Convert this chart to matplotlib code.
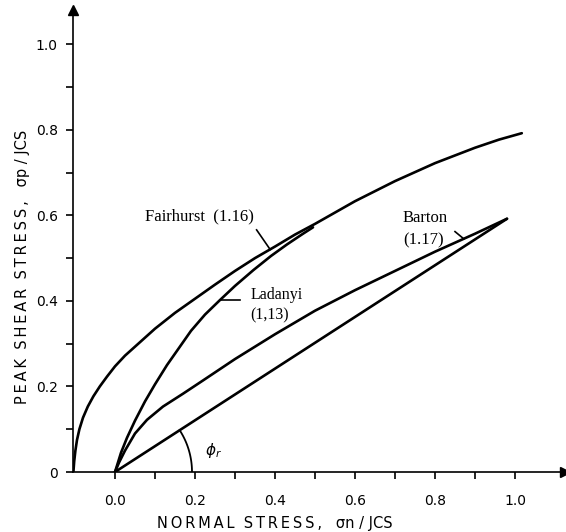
import numpy as np
import matplotlib.pyplot as plt

# curves (normal stress / JCS, peak shear / JCS)
fair_x = [-0.104, -0.102, -0.099, -0.095, -0.089, -0.08, -0.068, -0.054, -0.038, -0.02, 0.0,
          0.025, 0.05, 0.1, 0.15, 0.2, 0.25, 0.3, 0.35, 0.4, 0.45, 0.5, 0.6, 0.7, 0.8, 0.9, 0.96, 1.017]
fair_y = [0.0, 0.025, 0.05, 0.075, 0.1, 0.127, 0.153, 0.177, 0.2, 0.223, 0.247,
          0.272, 0.293, 0.335, 0.372, 0.405, 0.438, 0.47, 0.5, 0.527, 0.555, 0.58, 0.633, 0.68, 0.722, 0.758, 0.777, 0.792]

lad_x = [0.0, 0.005, 0.015, 0.03, 0.05, 0.075, 0.1, 0.13, 0.16, 0.19, 0.225, 0.2625, 0.3, 0.346, 0.39, 0.43, 0.47, 0.495]
lad_y = [0.0, 0.015, 0.045, 0.08, 0.12, 0.165, 0.205, 0.25, 0.29, 0.33, 0.368, 0.402, 0.435, 0.472, 0.505, 0.532, 0.557, 0.572]

bart_x = [0.0, 0.01, 0.025, 0.05, 0.08, 0.12, 0.17, 0.22, 0.3, 0.4, 0.5, 0.6, 0.7, 0.8, 0.9, 0.98]
bart_y = [0.0, 0.022, 0.05, 0.09, 0.122, 0.153, 0.183, 0.214, 0.264, 0.322, 0.377, 0.425, 0.47, 0.515, 0.557, 0.592]

resid_x = [0.0, 0.98]
resid_y = [0.0, 0.592]

xticks = [0.0, 0.1, 0.2, 0.3, 0.4, 0.5, 0.6, 0.7, 0.8, 0.9, 1.0]
xticklabels = ["0.0", "", "0.2", "", "0.4", "", "0.6", "", "0.8", "", "1.0"]
yticks = [0.0, 0.1, 0.2, 0.3, 0.4, 0.5, 0.6, 0.7, 0.8, 0.9, 1.0]
yticklabels = ["0", "", "0.2", "", "0.4", "", "0.6", "", "0.8", "", "1.0"]


def spaced(s):
    # wide letter spacing like the original lettering
    return "\u2009".join(s)


fig = plt.figure(figsize=(5.66, 5.32), dpi=100)
ax = fig.add_axes([73 / 566, 60 / 532, 492 / 566, 462 / 532])
ax.set_xlim(-0.105, 1.125)
ax.set_ylim(0, 1.08)

lw = 1.9
for xs, ys in [(fair_x, fair_y), (lad_x, lad_y), (bart_x, bart_y), (resid_x, resid_y)]:
    ax.plot(xs, ys, color="black", lw=lw, solid_capstyle="round", solid_joinstyle="round")

# angle arc for phi_r, drawn round in screen space
sx = 492 / 1.23
sy = 462 / 1.08
R = 77.0
ang = np.arctan(resid_y[1] / resid_x[1] * sy / sx)
t = np.linspace(0, ang, 40)
ax.plot(R * np.cos(t) / sx, R * np.sin(t) / sy, color="black", lw=1.3)
ax.text(0.225, 0.05, r"$\phi_r$", fontsize=11, ha="left", va="center")

# labels with leader lines
serif = "Liberation Serif"
ax.text(0.212, 0.597, "Fairhurst  (1.16)", family=serif, fontsize=12, ha="center", va="center")
ax.plot([0.354, 0.388], [0.566, 0.52], color="black", lw=1.2)

ax.text(0.338, 0.414, "Ladanyi", family=serif, fontsize=11.5, ha="left", va="center")
ax.text(0.338, 0.366, "(1,13)", family=serif, fontsize=11.5, ha="left", va="center")
ax.plot([0.262, 0.313], [0.402, 0.402], color="black", lw=1.2)

ax.text(0.72, 0.594, "Barton", family=serif, fontsize=12, ha="left", va="center")
ax.text(0.72, 0.542, "(1.17)", family=serif, fontsize=12, ha="left", va="center")
ax.plot([0.85, 0.872], [0.562, 0.545], color="black", lw=1.2)

# axes: only left and bottom, with arrow heads
for side in ["top", "right"]:
    ax.spines[side].set_visible(False)
for side in ["left", "bottom"]:
    ax.spines[side].set_linewidth(1.2)
ax.plot(1, 0, ">k", ms=7, transform=ax.transAxes, clip_on=False)
ax.plot(0, 1, "^k", ms=7, transform=ax.transAxes, clip_on=False)

ax.set_xticks(xticks)
ax.set_xticklabels(xticklabels)
ax.set_yticks(yticks)
ax.set_yticklabels(yticklabels)
ax.tick_params(axis="x", direction="out", length=5, width=1.2, pad=11, labelsize=10)
ax.tick_params(axis="y", direction="out", length=5, width=1.2, pad=6, labelsize=10)

ax.set_xlabel(spaced("NORMAL") + "  " + spaced("STRESS,") + "   " + "σn / JCS", fontsize=10.5)
ax.set_ylabel(spaced("PEAK") + "  " + spaced("SHEAR") + "  " + spaced("STRESS,") + "   " + "σp / JCS", fontsize=10.5)
ax.xaxis.set_label_coords(0.41, -0.095)
ax.yaxis.set_label_coords(-0.088, 0.444)

plt.savefig("out.png")
plt.close()
